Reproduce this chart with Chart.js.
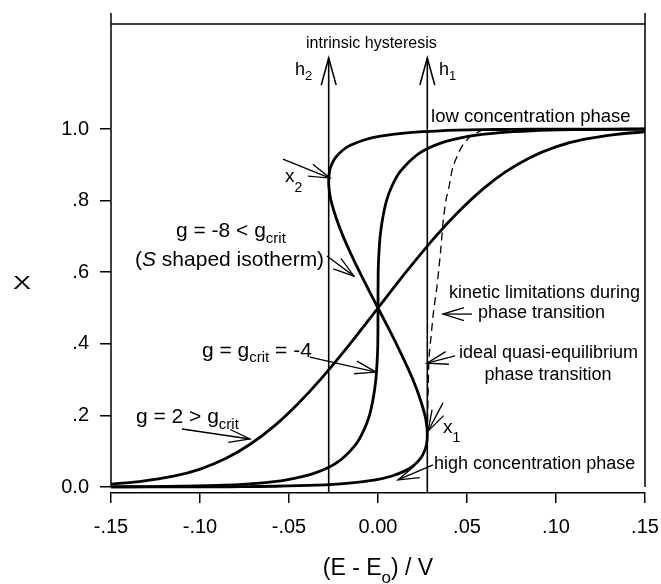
<!DOCTYPE html>
<html>
<head>
<meta charset="utf-8">
<script src="https://cdn.jsdelivr.net/npm/chart.js@4.4.1/dist/chart.umd.min.js"></script>
<style>
  html, body { margin: 0; padding: 0; background: #fff; }
</style>
</head>
<body>
<canvas id="chart" width="661" height="584"></canvas>
<script>
// ---- data ----
const xTicks = [-0.15, -0.10, -0.05, 0, 0.05, 0.10, 0.15];
const xTickLabels = ["-.15", "-.10", "-.05", "0.00", ".05", ".10", ".15"];
const yTicks = [0, 0.2, 0.4, 0.6, 0.8, 1.0];
const yTickLabels = ["0.0", ".2", ".4", ".6", ".8", "1.0"];

// g = 2 > gcrit
const gPlusE = [-0.15, -0.134, -0.1148, -0.0999, -0.0853, -0.0716, -0.0584, -0.0455, -0.0324, -0.0157, 0,
  0.0157, 0.0324, 0.0455, 0.0584, 0.0716, 0.0853, 0.0999, 0.1148, 0.134, 0.15];
const gPlusX = [0.008, 0.015, 0.03, 0.05, 0.08, 0.12, 0.17, 0.23, 0.30, 0.40, 0.50,
  0.60, 0.70, 0.77, 0.83, 0.88, 0.92, 0.95, 0.97, 0.985, 0.992];

// g = gcrit = -4
const gCritE = [-0.15, -0.1277, -0.1097, -0.0861, -0.0685, -0.0513, -0.0348, -0.0225, -0.0123, -0.0078, -0.0048,
  -0.0026, -0.0012, -0.0005, -0.0001, 0, 0.0001, 0.0005, 0.0012, 0.0026, 0.0048, 0.0078, 0.0123, 0.0225,
  0.0348, 0.0513, 0.0685, 0.0861, 0.1097, 0.1277, 0.15];
const gCritX = [0.0004, 0.001, 0.002, 0.005, 0.01, 0.02, 0.04, 0.07, 0.12, 0.16, 0.20,
  0.25, 0.30, 0.35, 0.40, 0.50, 0.60, 0.65, 0.70, 0.75, 0.80, 0.84, 0.88, 0.93,
  0.96, 0.98, 0.99, 0.995, 0.998, 0.999, 0.9996];

// g = -8 < gcrit (S shaped isotherm)
const gMinusE = [-0.15, -0.1175, -0.0937, -0.0758, -0.058, -0.0347, -0.0176, -0.0014, 0.0074, 0.0152, 0.0200,
  0.0239, 0.0261, 0.0273, 0.0277, 0.0274, 0.0264, 0.0234, 0.0196, 0.0151, 0.0103, 0.0052, 0,
  -0.0052, -0.0103, -0.0151, -0.0196, -0.0234, -0.0264, -0.0274, -0.0277, -0.0273, -0.0261, -0.0239,
  -0.0200, -0.0152, -0.0074, 0.0014, 0.0176, 0.0347, 0.058, 0.0758, 0.0937, 0.1175, 0.15];
const gMinusX = [0.00006, 0.0002, 0.0005, 0.001, 0.002, 0.005, 0.01, 0.02, 0.03, 0.045, 0.06,
  0.08, 0.10, 0.12, 0.146, 0.17, 0.20, 0.25, 0.30, 0.35, 0.40, 0.45, 0.50,
  0.55, 0.60, 0.65, 0.70, 0.75, 0.80, 0.83, 0.854, 0.88, 0.90, 0.92,
  0.94, 0.955, 0.97, 0.98, 0.99, 0.995, 0.998, 0.999, 0.9995, 0.9998, 0.99994];

// kinetic limitations (dashed)
const kineticE = [0.0277, 0.0279, 0.0282, 0.0287, 0.0298, 0.0312, 0.0331, 0.0343, 0.0354, 0.0365, 0.0382,
  0.0399, 0.0421, 0.0470, 0.0520, 0.0580];
const kineticX = [0.146, 0.20, 0.28, 0.363, 0.42, 0.49, 0.559, 0.615, 0.670, 0.737, 0.802,
  0.838, 0.894, 0.950, 0.980, 0.995];

// spinodal lines h2 / h1
const h2E = [-0.0277, -0.0277];
const h1E = [0.0277, 0.0277];
const hX = [-0.0168, 1.198];

const frameTop = 1.293;

// ---- annotations ----
const FONT = '"Liberation Sans", Arial, Helvetica, sans-serif';

const labels = [
  { runs: [["intrinsic hysteresis"]], e: -0.0037, x: 1.226, size: 16, align: "center" },
  { runs: [["h"], ["2", "sub"]], e: -0.0466, x: 1.151, size: 18, subDy: 5 },
  { runs: [["h"], ["1", "sub"]], e: 0.0343, x: 1.151, size: 18, subDy: 5 },
  { runs: [["low concentration phase"]], e: 0.0298, x: 1.0196, size: 18.5 },
  { runs: [["x"], ["2", "sub"]], e: -0.0522, x: 0.852, size: 19, subDy: 10 },
  { runs: [["g = -8 < g"], ["crit", "sub"]], e: -0.1135, x: 0.698, size: 21, subDy: 6 },
  { runs: [["("], ["S", "it"], [" shaped isotherm)"]], e: -0.1365, x: 0.617, size: 21 },
  { runs: [["g = g"], ["crit", "sub"], [" = -4"]], e: -0.0989, x: 0.363, size: 21, subDy: 5 },
  { runs: [["g = 2 > g"], ["crit", "sub"]], e: -0.136, x: 0.179, size: 21, subDy: 6 },
  { runs: [["x"], ["1", "sub"]], e: 0.0365, x: 0.151, size: 19, subDy: 9 },
  { runs: [["high concentration phase"]], e: 0.0315, x: 0.0503, size: 18 },
  { runs: [["kinetic limitations during"]], e: 0.0399, x: 0.528, size: 18 },
  { runs: [["phase transition"]], e: 0.0562, x: 0.472, size: 18 },
  { runs: [["ideal quasi-equilibrium"]], e: 0.0455, x: 0.360, size: 18 },
  { runs: [["phase transition"]], e: 0.0955, x: 0.299, size: 18, align: "center" },
];

const pointers = [
  { from: [-0.0534, 0.916], to: [-0.0270, 0.863] },
  { from: [-0.0287, 0.645], to: [-0.0135, 0.589] },
  { from: [-0.0382, 0.363], to: [-0.0011, 0.321] },
  { from: [-0.1101, 0.162], to: [-0.0719, 0.134] },
  { from: [0.0365, 0.235], to: [0.0281, 0.156] },
  { from: [0.0309, 0.0615], to: [0.0112, 0.0196] },
  { from: [0.0528, 0.483], to: [0.0365, 0.483] },
  { from: [0.0433, 0.366], to: [0.0275, 0.346] },
];

const toPoints = (es, xs) => es.map((e, i) => ({ x: e, y: xs[i] }));

const arrowHead = function (ctx, x1, y1, x2, y2, len, spread) {
  const a = Math.atan2(y2 - y1, x2 - x1);
  ctx.beginPath();
  ctx.moveTo(x2 - len * Math.cos(a - spread), y2 - len * Math.sin(a - spread));
  ctx.lineTo(x2, y2);
  ctx.lineTo(x2 - len * Math.cos(a + spread), y2 - len * Math.sin(a + spread));
  ctx.stroke();
};

const drawRuns = function (ctx, runs, x, y, size, align, subDy) {
  const subSize = Math.round(size * 0.72);
  const fontOf = (st) =>
    st === "sub" ? `${subSize}px ${FONT}` : st === "it" ? `italic ${size}px ${FONT}` : `${size}px ${FONT}`;
  let total = 0;
  runs.forEach(([t, st]) => { ctx.font = fontOf(st); total += ctx.measureText(t).width; });
  let cx = align === "center" ? x - total / 2 : x;
  ctx.textAlign = "left";
  ctx.textBaseline = "alphabetic";
  runs.forEach(([t, st]) => {
    ctx.font = fontOf(st);
    ctx.fillText(t, cx, st === "sub" ? y + (subDy !== undefined ? subDy : size * 0.3) : y);
    cx += ctx.measureText(t).width;
  });
};

const decorations = {
  id: "decorations",
  afterDatasetsDraw(chart) {
    const { ctx, chartArea, scales } = chart;
    const px = (e) => scales.x.getPixelForValue(e);
    const py = (v) => scales.y.getPixelForValue(v);
    ctx.save();
    ctx.strokeStyle = "#000";
    ctx.fillStyle = "#000";
    ctx.lineCap = "butt";

    // frame
    ctx.lineWidth = 1.5;
    ctx.beginPath();
    ctx.moveTo(chartArea.left, chartArea.top);
    ctx.lineTo(chartArea.left, py(0));
    ctx.moveTo(chartArea.right, chartArea.top);
    ctx.lineTo(chartArea.right, py(0));
    ctx.moveTo(chartArea.left, py(frameTop));
    ctx.lineTo(chartArea.right, py(frameTop));
    ctx.stroke();

    // arrow heads of h2 / h1
    ctx.lineWidth = 1.6;
    [h2E, h1E].forEach((es) => {
      arrowHead(ctx, px(es[0]), py(hX[0]), px(es[1]), py(hX[1]), 28, 0.27);
    });

    // pointer arrows
    ctx.lineWidth = 1.3;
    pointers.forEach((p) => {
      const x1 = px(p.from[0]), y1 = py(p.from[1]);
      const x2 = px(p.to[0]), y2 = py(p.to[1]);
      ctx.beginPath();
      ctx.moveTo(x1, y1);
      ctx.lineTo(x2, y2);
      ctx.stroke();
      arrowHead(ctx, x1, y1, x2, y2, 22, 0.3);
    });

    // texts
    labels.forEach((l) => drawRuns(ctx, l.runs, px(l.e), py(l.x), l.size, l.align, l.subDy));

    // axis titles
    drawRuns(ctx, [["(E - E"], ["o", "sub"], [") / V"]], (chartArea.left + chartArea.right) / 2, 575, 23, "center", 8);
    ctx.save();
    ctx.translate(22, 289);
    ctx.scale(1.5, 1);
    ctx.font = `18px ${FONT}`;
    ctx.textAlign = "center";
    ctx.textBaseline = "alphabetic";
    ctx.fillText("X", 0, 0);
    ctx.restore();

    ctx.restore();
  },
};

const curve = (data, width, dash) => ({
  data: data,
  showLine: true,
  borderColor: "#000",
  borderWidth: width,
  borderDash: dash || [],
  pointRadius: 0,
  pointHoverRadius: 0,
  fill: false,
  tension: 0.25,
});

const init = function () {
  const ctx = document.querySelector("#chart");
  new Chart(ctx, {
    type: "scatter",
    data: {
      datasets: [
        curve(toPoints(gPlusE, gPlusX), 2.8),
        curve(toPoints(gCritE, gCritX), 2.8),
        curve(toPoints(gMinusE, gMinusX), 2.8),
        curve(toPoints(kineticE, kineticX), 1.3, [8, 5]),
        curve(toPoints(h2E, hX), 1.6),
        curve(toPoints(h1E, hX), 1.6),
      ],
    },
    options: {
      responsive: false,
      animation: false,
      devicePixelRatio: 1,
      layout: { padding: { left: 0, right: 16, top: 13, bottom: 0 } },
      plugins: { legend: { display: false }, tooltip: { enabled: false } },
      scales: {
        x: {
          type: "linear",
          min: -0.15,
          max: 0.15,
          afterBuildTicks: (s) => { s.ticks = xTicks.map((v) => ({ value: v })); },
          afterFit: (s) => {
            s.height = 91;
            s.paddingLeft = 0;
            s.paddingRight = 0;
          },
          ticks: {
            callback: (v) => xTickLabels[xTicks.findIndex((t) => Math.abs(t - v) < 1e-9)],
            font: { family: FONT, size: 20 },
            color: "#000",
            padding: 12,
            maxRotation: 0,
            autoSkip: false,
          },
          grid: { drawOnChartArea: false, drawTicks: true, tickLength: 10, color: "#000", lineWidth: 1.5 },
          border: { display: true, color: "#000", width: 1.5 },
        },
        y: {
          type: "linear",
          min: -0.0168,
          max: 1.324,
          afterBuildTicks: (s) => { s.ticks = yTicks.map((v) => ({ value: v })); },
          afterFit: (s) => {
            s.width = 111;
            s.paddingTop = 0;
            s.paddingBottom = 0;
          },
          ticks: {
            callback: (v) => yTickLabels[yTicks.findIndex((t) => Math.abs(t - v) < 1e-9)],
            font: { family: FONT, size: 20 },
            color: "#000",
            padding: 11,
            autoSkip: false,
          },
          grid: { drawOnChartArea: false, drawTicks: true, tickLength: 11, color: "#000", lineWidth: 1.5 },
          border: { display: false },
        },
      },
    },
    plugins: [decorations],
  });
};

document.addEventListener("DOMContentLoaded", init);
</script>
</body>
</html>
